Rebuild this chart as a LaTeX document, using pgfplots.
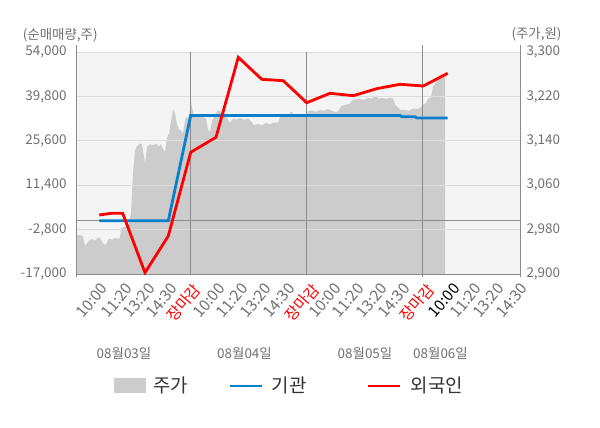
\documentclass[border=0pt]{standalone}
\usepackage{fontspec}
\setmainfont{Noto Sans CJK KR}
\usepackage{pgfplots}
\pgfplotsset{compat=1.18}
\definecolor{bgc}{HTML}{F4F4F4}
\definecolor{areac}{HTML}{CCCCCC}
\definecolor{gridc}{HTML}{DDDDDD}
\definecolor{darkgridc}{HTML}{8C8C8C}
\definecolor{labc}{HTML}{707070}
\definecolor{bluec}{HTML}{0A80CC}
\definecolor{redc}{HTML}{FF0000}
\definecolor{legc}{HTML}{333333}
\newcommand{\tf}{\fontsize{13.5}{14}\selectfont}
\newcommand{\xf}{\fontsize{15.5}{16}\selectfont}
\newcommand{\lf}{\fontsize{19}{20}\selectfont}

\pgfplotstableread{
x p
0 2970
4 2970
7 2968
9 2951
11 2955
13 2961
16 2963
19 2960
22 2966
24 2965
27 2955
29 2952
31 2956
33 2964
36 2962
39 2965
42 2963
44 2966
45 2982
48 2985
51 2984
53 2990
55 3010
57 3082
59 3123
61 3130
64 3135
66 3134
68 3110
69 3100
71 3129
74 3134
77 3132
80 3135
83 3130
85 3134
87 3125
89 3120
91 3145
93 3153
95 3175
97 3197
99 3190
101 3170
103 3160
105 3159
107 3153
109 3175
110 3183
112 3180
114 3195
115 3210
116 3200
118 3186
121 3188
124 3186
127 3182
130 3180
132 3160
134 3156
136 3175
138 3182
140 3190
142 3195
145 3192
148 3193
150 3185
152 3178
154 3172
157 3180
160 3178
164 3181
168 3178
172 3180
175 3175
178 3168
182 3170
186 3168
190 3172
194 3170
198 3173
202 3172
204 3182
207 3186
210 3188
213 3186
215 3193
218 3187
222 3187
225 3189
228 3184
230 3183
232 3193
236 3195
240 3192
244 3196
248 3194
252 3197
256 3194
259 3192
262 3193
265 3202
269 3205
273 3206
276 3212
280 3215
284 3215
288 3214
292 3217
296 3216
300 3222
302 3216
306 3217
310 3216
314 3217
317 3216
319 3205
322 3200
325 3195
329 3196
333 3194
337 3198
341 3197
344 3199
347 3205
350 3208
352 3216
355 3218
357 3238
359 3242
361 3250
363 3255
365 3252
367 3258
369 3255
}\pricetab

\pgfplotstableread{
x v
23.3 1870
35 2400
46.7 2400
69 -16580
92.3 -4843
114.7 21924
140 26721
162.3 52305
185.7 45270
207.3 44822
230.7 37786
254 40792
277.3 40025
300.7 42263
324 43670
347.3 43127
371.7 47188
}\foreigntab

\pgfplotstableread{
x v
23.3 0
46.7 0
69 0
92.3 0
114.7 33700
140 33700
162.3 33700
185.7 33700
207.3 33700
230.7 33700
254 33700
277.3 33700
300.7 33700
324 33700
326 33300
339 33300
341 32900
371.7 32900
}\insttab

\begin{document}
\begin{tikzpicture}
\useasboundingbox (-76bp,-154bp) rectangle (524bp,274bp);
% price axis (right)
\begin{axis}[
  at={(0bp,0bp)}, anchor=south west,
  width=444bp, height=222bp, scale only axis,
  xmin=0, xmax=444, ymin=2900, ymax=3300,
  axis background/.style={fill=bgc},
  axis x line=none, axis y line*=right,
  y axis line style={draw=darkgridc, line width=0.8bp, shorten <=-3bp, shorten >=-7bp},
  ytick={2900,2980,3060,3140,3220,3300},
  major tick length=0pt,
  yticklabel style={font=\tf, color=labc, xshift=3bp},
  /pgf/number format/.cd, 1000 sep={,}, assume math mode=true,
]
\addplot[fill=areac, draw=none] table[x=x,y=p] {\pricetab} \closedcycle;
\end{axis}
% net buying axis (left)
\begin{axis}[
  at={(0bp,0bp)}, anchor=south west,
  width=444bp, height=222bp, scale only axis,
  xmin=0, xmax=444, ymin=-17000, ymax=54000,
  axis x line*=bottom, axis y line*=left,
  axis line style={draw=darkgridc, line width=0.8bp},
  y axis line style={shorten <=-3bp, shorten >=-7bp},
  major tick length=0pt,
  ytick={-17000,-2800,11400,25600,39800,54000},
  scaled y ticks=false,
  ymajorgrids, major grid style={draw=gridc, line width=0.9bp},
  yticklabel style={font=\tf, color=labc, xshift=-6bp},
  xtick={22.4,47.4,69.7,92.4,114.7,139.7,162.7,186.4,209.7,233,255.7,278.7,302.4,324.7,348,374.7,396.4,419,442.4},
  xticklabels={10:00,11:20,13:20,14:30,\textcolor{redc}{장마감},10:00,11:20,13:20,14:30,\textcolor{redc}{장마감},10:00,11:20,13:20,14:30,\textcolor{redc}{장마감},\textcolor{black}{10:00},11:20,13:20,14:30},
  xticklabel style={font=\xf, color=labc, rotate=50, anchor=north east, xshift=-3bp, yshift=-4bp, inner sep=2bp},
  extra x ticks={114.7,230.3,346.7},
  extra x tick labels={},
  extra x tick style={grid=major, major grid style={draw=darkgridc, line width=0.8bp, shorten <=-3bp, shorten >=-7bp}},
  extra y ticks={0},
  extra y tick labels={},
  extra y tick style={grid=major, major grid style={draw=darkgridc, line width=0.9bp}},
  /pgf/number format/.cd, 1000 sep={,}, assume math mode=true,
]
\addplot[draw=bluec, line width=2.8bp] table[x=x,y=v] {\insttab};
\addplot[draw=redc, line width=2.8bp] table[x=x,y=v] {\foreigntab};
\end{axis}
% axis titles
\node[anchor=west, font=\tf, color=labc, inner sep=0pt] at (-53.3bp,239bp) {(순매매량,주)};
\node[anchor=east, font=\tf, color=labc, inner sep=0pt] at (485.7bp,239.5bp) {(주가,원)};
% dates
\node[font=\tf, color=labc, inner sep=0pt] at (48bp,-79.3bp) {08월03일};
\node[font=\tf, color=labc, inner sep=0pt] at (168.5bp,-79.3bp) {08월04일};
\node[font=\tf, color=labc, inner sep=0pt] at (289bp,-79.3bp) {08월05일};
\node[font=\tf, color=labc, inner sep=0pt] at (364.5bp,-79.3bp) {08월06일};
% legend
\fill[areac] (38.3bp,-118.7bp) rectangle (69.7bp,-104.3bp);
\node[anchor=west, font=\lf, color=legc, inner sep=0pt] at (77.3bp,-111bp) {주가};
\draw[bluec, line width=2.8bp] (154bp,-112bp) -- (185.7bp,-112bp);
\node[anchor=west, font=\lf, color=legc, inner sep=0pt] at (195.7bp,-111bp) {기관};
\draw[redc, line width=2.8bp] (292.3bp,-112bp) -- (324bp,-112bp);
\node[anchor=west, font=\lf, color=legc, inner sep=0pt] at (334.7bp,-111bp) {외국인};
\end{tikzpicture}
\end{document}
